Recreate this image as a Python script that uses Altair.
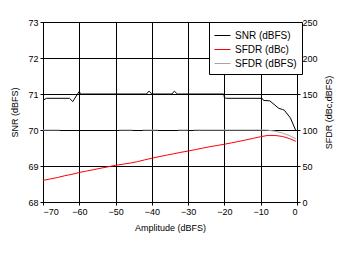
import altair as alt
import pandas as pd

# SNR (dBFS), left axis
snr_x = [-70, -69, -62.7, -61.8, -60.1, -59.4, -41.5, -40.8, -40, -34.5, -33.8, -33,
         -20.2, -20, -19.5, -9.6, -9.2, -7.5, -5, -4, -3.5, -1.8, -0.4]
snr_y = [70.83, 70.88, 70.88, 70.79, 71.06, 71.0, 71.0, 71.08, 71.0, 71.0, 71.08, 71.0,
         71.0, 70.9, 70.88, 70.88, 70.82, 70.81, 70.6, 70.57, 70.55, 70.33, 70.0]

# SFDR (dBc), right axis
sfdr_dbc_x = [-70, -68, -66, -64, -62, -60, -58, -56, -54, -52, -50, -48, -46, -44, -42,
              -40, -38, -36, -34, -32, -30, -28, -26, -24, -22, -20, -18, -16, -14, -12,
              -10, -8, -6, -4, -2, -0.3]
sfdr_dbc_y = [30, 32, 34, 36.5, 38.5, 41, 43, 45, 47, 49, 51, 52.5, 54, 56, 58.5,
              60.8, 63, 65, 67, 69, 70.8, 72.8, 74.8, 76.8, 78.5, 80.2, 82.2, 84.2, 86.3, 88.5,
              90.7, 92.5, 92.4, 91, 88, 84.3]

# SFDR (dBFS), right axis; visible pieces (segment id) of the gray trace
sfdr_dbfs_x = [-70, -65.4, -49, -45.3, -42.5, -38.3, -32.8, -30, -28.5, -26.6,
               -26.9, -9, -8, -6, -4, -2, -0.3]
sfdr_dbfs_y = [100, 100, 100, 100, 100, 100, 100, 100, 100, 100,
               100, 100, 99.8, 98.3, 95.8, 92, 87.8]
sfdr_dbfs_seg = [1, 1, 2, 2, 3, 3, 4, 4, 5, 5,
                 6, 6, 6, 6, 6, 6, 6]

series_names = ["SNR (dBFS)", "SFDR (dBc)", "SFDR (dBFS)"]
series_colors = ["#000000", "#ff0000", "#a6a6a6"]

snr_df = pd.DataFrame({"x": snr_x, "v": snr_y, "series": series_names[0], "seg": 0})
dbc_df = pd.DataFrame({"x": sfdr_dbc_x, "v": sfdr_dbc_y, "series": series_names[1], "seg": 0})
dbfs_df = pd.DataFrame({"x": sfdr_dbfs_x, "v": sfdr_dbfs_y, "series": series_names[2],
                        "seg": sfdr_dbfs_seg})
right_df = pd.concat([dbfs_df, dbc_df], ignore_index=True)

FONT = "Liberation Sans"

color = alt.Color(
    "series:N",
    scale=alt.Scale(domain=series_names, range=series_colors),
    sort=series_names,
    legend=alt.Legend(
        title=None, orient="none", legendX=166, legendY=0,
        fillColor="white", strokeColor="black", padding=5,
        symbolType="stroke", symbolSize=256, symbolStrokeWidth=1,
        labelFont=FONT, labelFontSize=10, labelColor="black",
        rowPadding=0, labelOffset=4, labelLimit=200,
    ),
)

x_enc = alt.X(
    "x:Q",
    scale=alt.Scale(domain=[-70, 0], nice=False),
    axis=alt.Axis(values=list(range(-70, 1, 10)), title="Amplitude (dBFS)",
                  grid=True, gridColor="black", gridOpacity=1, gridWidth=1,
                  tickSize=3, labelPadding=2, titlePadding=7),
)

left = alt.Chart(snr_df).mark_line(strokeWidth=1, interpolate="linear").encode(
    x=x_enc,
    y=alt.Y("v:Q", scale=alt.Scale(domain=[68, 73], nice=False, zero=False),
            axis=alt.Axis(orient="left", values=[68, 69, 70, 71, 72, 73],
                          title="SNR (dBFS)", grid=True, gridColor="black",
                          gridOpacity=1, gridWidth=1, tickSize=3, labelPadding=2,
                          titlePadding=8)),
    color=color,
    order=alt.Order("x:Q"),
)

right = alt.Chart(right_df).mark_line(strokeWidth=1, interpolate="linear").encode(
    x=x_enc,
    y=alt.Y("v:Q", scale=alt.Scale(domain=[0, 250], nice=False),
            axis=alt.Axis(orient="right", values=[0, 50, 100, 150, 200, 250],
                          title="SFDR (dBc,dBFS)", grid=False, tickSize=3,
                          labelPadding=2, titlePadding=16, titleAngle=270)),
    color=color,
    detail="seg:N",
    order=alt.Order("x:Q"),
)

chart = alt.layer(left, right).resolve_scale(y="independent").properties(
    width=254, height=180,
    background="white",
    autosize=alt.AutoSizeParams(type="none"),
    padding={"left": 43, "top": 22, "right": 46, "bottom": 52},
).configure_view(
    stroke="black", strokeWidth=1
).configure_axis(
    labelFont=FONT, labelFontSize=9, labelColor="black",
    titleFont=FONT, titleFontSize=9, titleFontWeight="normal", titleColor="black",
    domainColor="black", tickColor="black",
)

chart.save("out.html", embed_options={"renderer": "svg", "actions": False})
